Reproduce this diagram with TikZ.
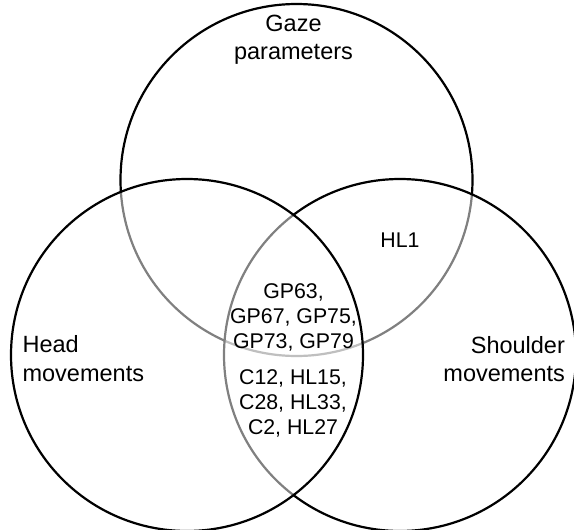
\documentclass[tikz,border=0pt]{standalone}
\usepackage{fontspec}
\setmainfont{Liberation Sans}
\usepackage{tikz}
\usetikzlibrary{positioning}

\begin{document}
\begin{tikzpicture}[x=1pt, y=-1pt, line width=2.2pt]
    \useasboundingbox (0,0) rectangle (574,530);

    % Vòng tròn (vẽ theo thứ tự: trên, phải, trái)
    \node[circle, draw, inner sep=0pt, minimum size=352pt, fill=white, fill opacity=0.5] (gaze) at (296.5,180) {};
    \node[circle, draw, inner sep=0pt, minimum size=352pt, fill=white, fill opacity=0.5] (shoulder) at (400,355) {};
    \node[circle, draw, inner sep=0pt, minimum size=352pt, fill=white, fill opacity=0.5] (head) at (187,355) {};

    % Tên các tập
    \node[font=\fontsize{23.5}{28.4}\selectfont, align=center, inner sep=0pt] (gaze_lbl) at (293.5,40) {Gaze\\parameters};
    \node[font=\fontsize{23.5}{28.4}\selectfont, align=left, inner sep=0pt, anchor=west] (head_lbl) at (21.5,358.5) {Head\\movements};
    \node[font=\fontsize{23.5}{28.4}\selectfont, align=right, inner sep=0pt, anchor=east] (shoulder_lbl) at (566,359) {Shoulder\\movements};

    % Phần giao
    \node[font=\fontsize{21.3}{25}\selectfont, inner sep=0pt] (hl1) at (400,240) {HL1};
    \node[font=\fontsize{21.3}{25}\selectfont, align=center, inner sep=0pt] (all3) at (293.5,317) {GP63,\\GP67, GP75,\\GP73, GP79};
    \node[font=\fontsize{21.3}{25}\selectfont, align=center, inner sep=0pt] (hs) at (293,403.3) {C12, HL15,\\C28, HL33,\\C2, HL27};
\end{tikzpicture}
\end{document}
